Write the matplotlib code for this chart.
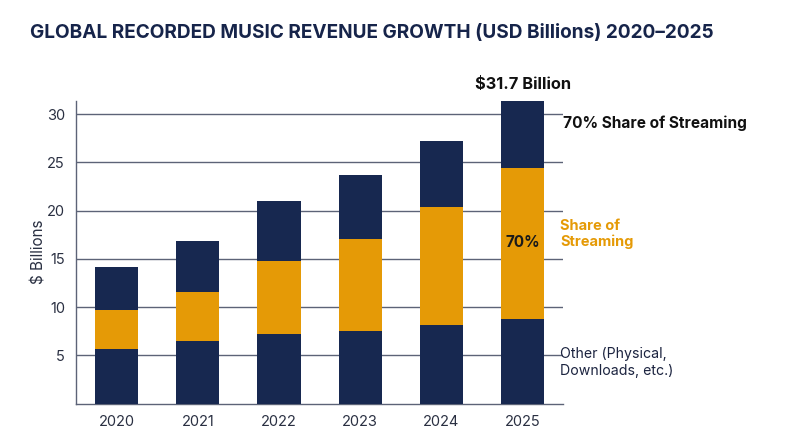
import matplotlib
matplotlib.use("Agg")
import matplotlib.pyplot as plt
import numpy as np

years = ["2020", "2021", "2022", "2023", "2024", "2025"]
other_bottom = [5.68, 6.48, 7.21, 7.56, 8.11, 8.77]
streaming = [3.99, 5.12, 7.57, 9.50, 12.27, 15.63]
other_top = [4.53, 5.30, 6.19, 6.61, 6.85, 7.00]
yticks = [5, 10, 15, 20, 25, 30]

NAVY = "#172850"
ORANGE = "#e59a06"
GRID = "#5c6377"
TEXT = "#2a3042"

plt.rcParams['font.family'] = ['Inter', 'DejaVu Sans']

fig = plt.figure(figsize=(8, 4.47), dpi=100)
ax = fig.add_axes([0.095, 0.0973, 0.609, 0.6774])

x = np.arange(len(years))
w = 0.533
b1 = np.array(other_bottom)
b2 = b1 + np.array(streaming)
tot = b2 + np.array(other_top)
ax.bar(x, other_bottom, width=w, color=NAVY, zorder=3)
ax.bar(x, streaming, width=w, bottom=b1, color=ORANGE, zorder=3)
ax.bar(x, other_top, width=w, bottom=b2, color=NAVY, zorder=3)

ax.set_xlim(-0.5, len(years) - 0.5)
ax.set_ylim(0, tot[-1])
ax.set_yticks(yticks)
ax.set_xticks(x)
ax.set_xticklabels(years)
ax.tick_params(axis='both', length=0, labelsize=10.5, colors=TEXT)
ax.tick_params(axis='y', pad=8)
ax.tick_params(axis='x', pad=8)
ax.yaxis.grid(True, color=GRID, linewidth=1.0, zorder=0)
ax.set_axisbelow(True)
for s in ["top", "right"]:
    ax.spines[s].set_visible(False)
for s in ["left", "bottom"]:
    ax.spines[s].set_color(GRID)
    ax.spines[s].set_linewidth(1.0)
ax.set_ylabel("$ Billions", fontsize=11, color=TEXT, labelpad=0)

fig.text(30 / 800, 1 - 33 / 447, "GLOBAL RECORDED MUSIC REVENUE GROWTH (USD Billions) 2020\u20132025",
         fontsize=13.7, fontweight='bold', color="#16244a", va='center', ha='left')

ax.text(x[-1], tot[-1] + 1.7, "$31.7 Billion", ha='center', va='center',
        fontsize=11.8, fontweight='bold', color='#111111')
ax.text(x[-1], (b1[-1] + b2[-1]) / 2 + 0.1, "70%", ha='center', va='center',
        fontsize=11, fontweight='bold', color='#1a1a1a', zorder=5)

fig.text(563 / 800, 1 - 123 / 447, "70% Share of Streaming", ha='left', va='center',
         fontsize=11.1, fontweight='bold', color='#111111')
fig.text(560 / 800, 1 - 234 / 447, "Share of\nStreaming", ha='left', va='center',
         fontsize=10.5, fontweight='bold', color=ORANGE, linespacing=1.15)
fig.text(560 / 800, 1 - 362.5 / 447, "Other (Physical,\nDownloads, etc.)", ha='left', va='center',
         fontsize=10.2, color="#1c2440", linespacing=1.2)

fig.savefig("out.png", dpi=100)
